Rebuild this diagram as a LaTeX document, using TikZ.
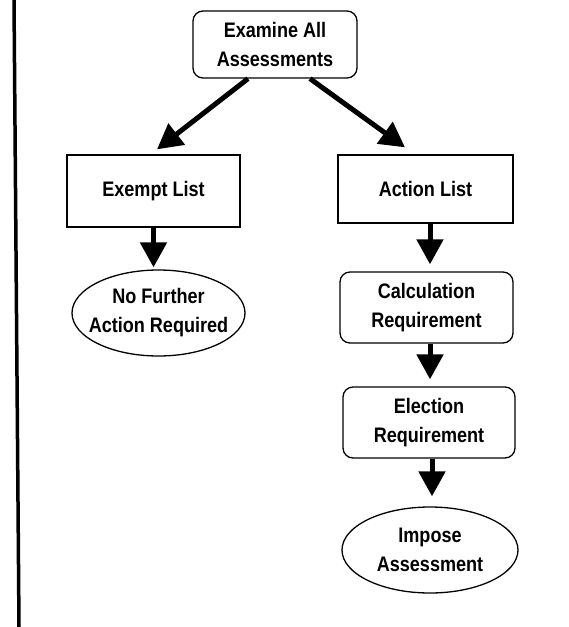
\documentclass[tikz,border=0pt]{standalone}
\usepackage{fontspec}
\setmainfont{Liberation Sans}[FakeStretch=0.86]
\usetikzlibrary{arrows.meta,shapes.geometric}
\begin{document}
\begin{tikzpicture}[x=1pt,y=-1pt,
  txt/.style={font=\fontsize{21}{29}\selectfont\bfseries, align=center, inner sep=0pt},
  rbox/.style={draw, line width=1.3pt, rounded corners=10pt, txt},
  sbox/.style={draw, line width=1.3pt, txt},
  oval/.style={draw, ellipse, line width=1.3pt, inner sep=0pt},
  arr/.style={line width=5pt, -{Triangle[width=26pt,length=25pt]}}
]
\useasboundingbox (0,0) rectangle (569,627);
\fill[white] (0,0) rectangle (569,627);
% left margin rule
\coordinate (ltop) at (14,0);
\coordinate (lbot) at (19,627);
\draw[line width=3.5pt] (ltop) -- (lbot);

\node[rbox, minimum width=164pt, minimum height=67pt] (top) at (275,44.5) {Examine All\\Assessments};
\node[sbox, minimum width=173pt, minimum height=72pt] (exempt) at (153.5,191) {Exempt List};
\node[sbox, minimum width=175pt, minimum height=68pt] (action) at (425.5,189) {Action List};
\node[oval, minimum width=173pt, minimum height=86pt] (nf) at (158.5,313) {};
\node[txt] at (nf) {No Further\\Action Required};
\node[rbox, minimum width=173pt, minimum height=71pt] (calc) at (426.5,307.5) {Calculation\\Requirement};
\node[rbox, minimum width=172pt, minimum height=71pt] (elect) at (429,422.5) {Election\\Requirement};
\node[oval, minimum width=176pt, minimum height=86pt] (impose) at (430,550) {};
\node[txt] at (impose) {Impose\\Assessment};

\draw[arr] ([xshift=-27pt]top.south) -- ([xshift=3.5pt,yshift=5pt]exempt.north);
\draw[arr] ([xshift=35pt]top.south) -- ([xshift=-20.5pt,yshift=7pt]action.north);
\draw[arr, shorten >=2pt] (exempt.south) -- (exempt.south |- nf.north);
\draw[arr, shorten >=7pt] ([xshift=4.5pt]action.south) -- ([xshift=4.5pt]action.south |- calc.north);
\draw[arr, shorten >=7pt] ([xshift=3.5pt]calc.south) -- ([xshift=3.5pt]calc.south |- elect.north);
\draw[arr, shorten >=10pt] ([xshift=3pt]elect.south) -- ([xshift=3pt]elect.south |- impose.north);
\end{tikzpicture}
\end{document}
